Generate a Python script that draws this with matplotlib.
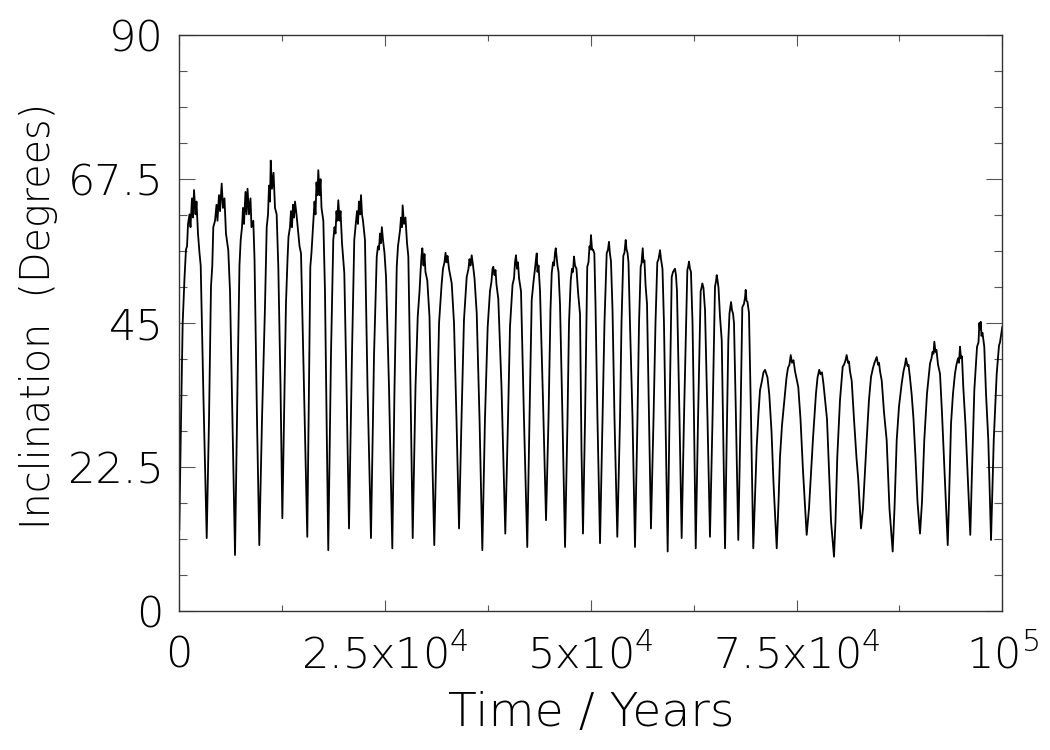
import numpy as np
import matplotlib
matplotlib.use("Agg")
import matplotlib.pyplot as plt

# Time (years) of points, one row per oscillation
time_years = [
    0, 210, 410, 630, 810, 940, 1060, 1240, 1360, 1540, 1660, 1790, 1970, 2090, 2270, 2450, 2600, 2940,
    3330, 3610, 3850, 4010, 4130, 4340, 4520, 4640, 4820, 4950, 5150, 5310, 5490, 5670, 5950, 6160, 6460,
    6770, 7070, 7310, 7460, 7620, 7740, 7860, 8040, 8170, 8290, 8470, 8650, 8770, 8990, 9140, 9440,
    9720, 10050, 10410, 10620, 10780, 10900, 11020, 11110, 11260, 11450, 11630, 11830, 11930, 12030, 12300,
    12520, 12720, 12960, 13150, 13270, 13450, 13570, 13690, 13820, 13940, 14060, 14240, 14420, 14610, 14790, 15150,
    15550, 15760, 15920, 16060, 16250, 16430, 16550, 16670, 16790, 16890, 17040, 17160, 17280, 17500, 17700,
    18100, 18430, 18710, 18860, 18980, 19100, 19200, 19320, 19470, 19590, 19770, 20050, 20320,
    20620, 20980, 21260, 21410, 21590, 21710, 21830, 21960, 22080, 22200, 22320, 22560, 22870,
    23290, 23660, 23990, 24140, 24260, 24390, 24510, 24610, 24750, 24930, 25120, 25480,
    25880, 26150, 26420, 26570, 26820, 26940, 27060, 27140, 27300, 27480, 27670, 27830, 28090,
    28360, 28700, 28970, 29190, 29310, 29430, 29530, 29670, 29790, 29910, 30130, 30400, 30640,
    30980, 31310, 31560, 31880, 32040, 32220, 32350, 32470, 32590, 32770, 33100, 33380, 33680,
    33990, 34290, 34590, 34920, 35140, 35260, 35380, 35530, 35690, 35870, 36140, 36480,
    36820, 37140, 37470, 37750, 37930, 38060, 38150, 38300, 38420, 38540, 38760, 39150,
    39610, 39940, 40180, 40490, 40670, 40790, 40910, 41030, 41150, 41280, 41520, 41880,
    42280, 42550, 42820, 43040, 43220, 43340, 43430, 43520, 43650, 43830, 44190,
    44560, 44860, 45100, 45250, 45410, 45530, 45650, 45740, 45830, 45950, 46080, 46260, 46560,
    46870, 47170, 47350, 47560, 47720, 47840, 47960, 48080, 48260, 48440, 48690, 48870,
    49050, 49300, 49570, 49720, 49840, 49940, 50020, 50150, 50270, 50430, 50570, 50810,
    51120, 51420, 51660, 51930, 52090, 52210, 52310, 52450, 52640, 52880,
    53220, 53550, 53730, 53950, 54090, 54240, 54340, 54460, 54580, 54760, 55070,
    55370, 55670, 55860, 56060, 56160, 56310, 56400, 56520, 56650, 56830, 57070,
    57310, 57620, 57860, 58080, 58230, 58410, 58530, 58710, 58890, 59080,
    59340, 59560, 59830, 59990, 60230, 60350, 60470, 60780,
    61040, 61320, 61730, 61830, 61930, 62050, 62170, 62360, 62540,
    62750, 63030, 63350, 63450, 63550, 63690, 63880, 64180,
    64480, 64790, 65090, 65210, 65300, 65390, 65520, 65700, 65910, 66120,
    66310, 66490, 66710, 66850, 67040, 67160, 67280, 67400, 67640,
    67920, 68190, 68410, 68610, 68740, 68820, 68920, 69040, 69220, 69470,
    69740, 69950, 70160, 70380, 70560, 70800, 70980, 71170, 71350, 71470, 71690, 71960, 72200,
    72590, 72810, 72990, 73230, 73600, 73780, 73960, 74140, 74290, 74450, 74630, 74810, 75210, 75480, 75780,
    76230, 76510, 76760, 77000, 77360, 77550, 77760, 77910, 78090, 78270, 78460, 78700, 78940, 79190,
    79550, 79730, 79950, 80280, 80610, 80770, 80950, 81090, 81250, 81370, 81490, 81700, 81980, 82280, 82500,
    82830, 83070, 83520, 83800, 84050, 84290, 84470, 84740, 84900, 85020, 85140, 85350, 85630, 85950, 86290,
    86680, 86900, 87170, 87450, 87780, 88000, 88180, 88300, 88480, 88600, 88780, 88990, 89210, 89450, 89700,
    90000, 90240, 90520, 90850, 91220, 91400, 91520, 91640, 91740, 91880, 92000, 92190, 92430, 92670, 92980,
    93370, 93520, 93770, 94010, 94250, 94430, 94620, 94740, 94860, 94980, 95100, 95260, 95530, 95830,
    96110, 96320, 96600, 96930, 97110, 97210, 97290, 97380, 97470, 97590, 97810, 98020, 98300,
    98630, 98960, 99170, 99320, 99480, 99600, 99720, 100000,
]

# Inclination (degrees) at the same points
inclination_deg = [
    12.7, 30, 45, 52, 56.5, 57, 60.5, 62, 60, 64.5, 61.5, 65.8, 62, 64, 59, 56, 54, 33,
    11.4, 30, 50.7, 54, 60, 61, 63.5, 61, 65, 62.5, 66.8, 63, 64.5, 59, 56.4, 50, 30,
    8.75, 35, 54, 58, 60, 63, 60.5, 65.5, 62, 66, 62, 64.5, 60, 61, 55, 30,
    10.3, 30, 47.5, 60, 62, 66.5, 64, 70.4, 66, 68.5, 63, 62, 58, 53.8, 35,
    14.5, 30, 48, 55, 58.5, 60, 62.5, 60, 63.5, 61.5, 64, 62, 59.5, 57, 55.9, 35,
    11.6, 35, 53.8, 56, 60, 64, 62, 67, 65, 68.9, 65, 67.5, 63, 61, 50,
    9.5, 40, 58, 60, 59, 62.5, 61, 64.2, 61, 62.5, 57.5, 52.8, 35,
    12.9, 40, 58, 60, 62.5, 60.5, 64, 62, 65, 62, 61, 58, 35,
    11.4, 40, 55.4, 57, 56.5, 59, 57.5, 60, 58, 56, 52.2, 35,
    9.8, 35, 53.8, 57, 59.5, 61.5, 60, 63.4, 60.5, 61.5, 57.5, 55.4, 35,
    11.4, 35, 46, 50, 53, 55.5, 56.7, 54, 55.8, 53, 51.7, 46, 30,
    10.3, 30, 45, 51.2, 53.5, 54.5, 56, 54.5, 55.5, 53.5, 51.2, 45, 30,
    12.9, 30, 45.5, 52.2, 53.5, 55, 54, 55.6, 54, 52, 46.5, 30,
    9.5, 30, 44.4, 50, 51.5, 53.5, 53.8, 52.5, 53.3, 51, 48.8, 35,
    12.1, 30, 44.4, 51, 52, 54.5, 55.6, 53.5, 54.5, 52, 50, 30,
    10, 30, 48.6, 51.5, 53.5, 55, 55.9, 53, 54, 50, 33,
    14.2, 30, 47, 52.8, 54.5, 54, 56, 56.7, 55.5, 54, 53, 47.9, 30,
    10, 30, 45, 51.7, 53.5, 53, 55.4, 54, 53.5, 50, 46.4, 25,
    12.1, 30, 53.8, 54.5, 57, 56.5, 58.75, 56.5, 56.5, 55.9, 48, 30,
    10.6, 30, 45, 55.9, 56.5, 57.7, 56, 54.7, 47, 30,
    11.6, 30, 45, 55.5, 56, 58, 56.5, 56, 54.5, 45, 30,
    10, 30, 45, 53.8, 54.3, 56.7, 54.5, 54.8, 51, 48, 30,
    12.9, 30, 45, 54.5, 55, 56.4, 55, 53.5, 45, 30,
    9.3, 30, 52.2, 53, 53.5, 52.5, 50, 30,
    11.4, 30, 53.3, 53.8, 54.6, 53.5, 53, 45, 30,
    9.8, 30, 50, 50.5, 51.2, 50.5, 47, 30,
    11.6, 30, 50.7, 51.5, 52.5, 51.8, 50.5, 46, 42.3, 25,
    9.8, 25, 42.3, 46.5, 48.3, 47, 46.5, 45, 30,
    11.1, 30, 47.5, 48, 49, 50.2, 48.5, 48.3, 46.6, 30,
    9.8, 18, 25.7, 31, 34.5, 36, 37.3, 37.7, 37, 36.5, 33.8, 28, 20,
    9.8, 17, 24.1, 29, 34, 36.5, 38, 38.5, 40, 38.8, 39.2, 37.5, 35, 30, 22,
    11.9, 16, 21.5, 27, 34, 36.5, 37.7, 37, 37.3, 35.5, 33, 30, 22, 14,
    8.5, 14, 24.1, 33, 38.2, 38.5, 39.2, 40, 38.8, 39, 37.5, 36, 30, 24, 20.5,
    12.9, 16, 26.7, 33, 36.6, 38, 38.8, 39.7, 38.5, 38.8, 37.5, 36, 31, 26.7, 16,
    9.3, 16, 26.7, 32, 35.6, 37.5, 38.5, 39.5, 38.3, 38.5, 36.5, 33.8, 30, 24, 17,
    12.1, 17, 26.7, 34, 38.7, 39.5, 40.5, 40.2, 42.1, 40.5, 40.8, 38.5, 37.1, 31, 22,
    10.3, 17, 29.3, 34, 37.1, 38.5, 39.5, 38.8, 41.3, 39.5, 39.8, 35, 29, 20,
    11.9, 22, 34.5, 41.3, 42, 45, 44, 45.2, 43, 43.5, 41.3, 34, 26.7,
    11.1, 26.7, 33, 37.1, 39.5, 41.5, 42, 44.4,
]

x_ticks = [0, 25000, 50000, 75000, 100000]
x_tick_labels = ['0', r'$2.5x10^{4}$', r'$5x10^{4}$', r'$7.5x10^{4}$', r'$10^{5}$']
y_ticks = [0, 22.5, 45, 67.5, 90]
y_tick_labels = ['0', '22.5', '45', '67.5', '90']

plt.rcParams['font.family'] = ['DejaVu Sans']
plt.rcParams['font.weight'] = 200
plt.rcParams['axes.labelweight'] = 200
plt.rcParams['mathtext.fontset'] = 'custom'
plt.rcParams['mathtext.rm'] = 'DejaVu Sans:weight=200'
plt.rcParams['mathtext.it'] = 'DejaVu Sans:weight=200'
plt.rcParams['mathtext.default'] = 'rm'

fig = plt.figure(figsize=(10.5, 7.5), dpi=100)
ax = fig.add_axes([179.3 / 1050, 1 - 611 / 750, 823.0 / 1050, 575.8 / 750])
ax.plot(time_years, inclination_deg, color='k', lw=1.3)
ax.set_xlim(0, 1e5)
ax.set_ylim(0, 90)

ax.set_xticks(x_ticks)
ax.set_xticklabels(x_tick_labels)
ax.set_xticks(np.arange(0, 100001, 12500), minor=True)
ax.set_yticks(y_ticks)
ax.set_yticklabels(y_tick_labels)
ax.set_yticks(np.arange(0, 90.1, 5.625), minor=True)

ax.tick_params(which='both', direction='in', top=True, right=True,
               color='#555555', width=0.8, labelsize=31)
ax.tick_params(axis='x', which='major', length=8, pad=41)
ax.tick_params(axis='x', which='minor', length=4.3)
ax.tick_params(axis='y', which='major', length=11.5, pad=11.5)
ax.tick_params(axis='y', which='minor', length=5.8)
for lbl in ax.get_xticklabels():
    lbl.set_verticalalignment('baseline')
for s in ax.spines.values():
    s.set_linewidth(1.0)
    s.set_color('#333333')

ax.set_xlabel('Time / Years', fontsize=34, va='baseline')
ax.xaxis.set_label_coords(0.5, (611 - 726) / 575.8)
ax.set_ylabel('Inclination  (Degrees)', fontsize=28.5, va='baseline')
ax.yaxis.set_label_coords((50 - 179.3) / 823.0, (611 - 316) / 575.8)

fig.savefig('out.png')
